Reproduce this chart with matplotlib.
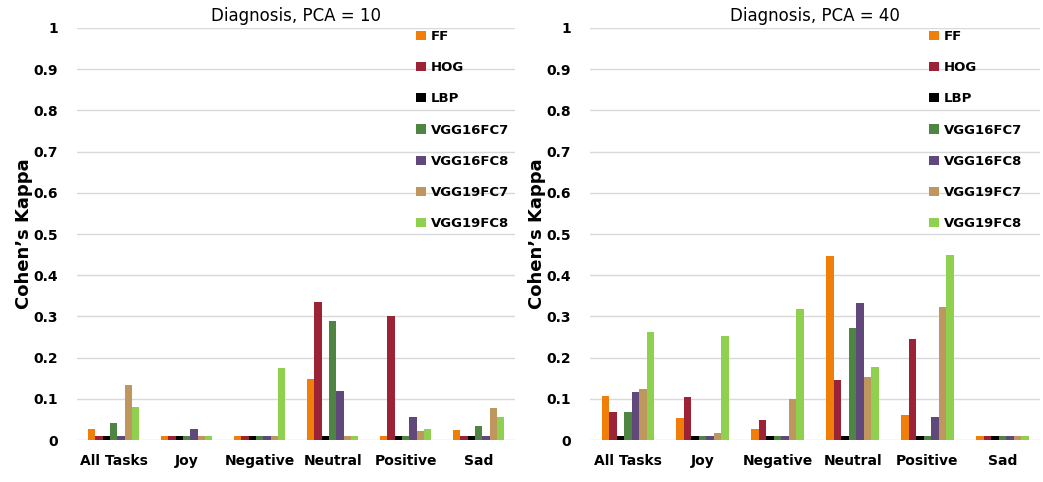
import matplotlib.pyplot as plt
import numpy as np

categories = ['All Tasks', 'Joy', 'Negative', 'Neutral', 'Positive', 'Sad']
features = ['FF', 'HOG', 'LBP', 'VGG16FC7', 'VGG16FC8', 'VGG19FC7', 'VGG19FC8']
colors = ['#F07F09', '#9B2335', '#000000', '#4E8542', '#60497A', '#C0965F', '#8FD14F']

# Cohen's kappa per feature, one list per task category order above
pca10 = {
    'FF':       [0.026, 0.01, 0.01, 0.147, 0.01, 0.024],
    'HOG':      [0.01, 0.01, 0.01, 0.335, 0.30, 0.01],
    'LBP':      [0.01, 0.01, 0.01, 0.01, 0.01, 0.01],
    'VGG16FC7': [0.041, 0.01, 0.01, 0.288, 0.01, 0.033],
    'VGG16FC8': [0.01, 0.028, 0.01, 0.12, 0.057, 0.01],
    'VGG19FC7': [0.133, 0.01, 0.01, 0.01, 0.023, 0.079],
    'VGG19FC8': [0.08, 0.01, 0.176, 0.01, 0.028, 0.057],
}
pca40 = {
    'FF':       [0.107, 0.054, 0.027, 0.447, 0.06, 0.01],
    'HOG':      [0.067, 0.105, 0.048, 0.145, 0.245, 0.01],
    'LBP':      [0.01, 0.01, 0.01, 0.01, 0.01, 0.01],
    'VGG16FC7': [0.068, 0.01, 0.01, 0.272, 0.01, 0.01],
    'VGG16FC8': [0.117, 0.01, 0.01, 0.332, 0.057, 0.01],
    'VGG19FC7': [0.124, 0.016, 0.10, 0.152, 0.322, 0.01],
    'VGG19FC8': [0.262, 0.252, 0.319, 0.178, 0.45, 0.01],
}

fig = plt.figure(figsize=(10.43, 4.82), dpi=100)
ax1 = fig.add_axes([0.074, 0.087, 0.42, 0.855])
ax2 = fig.add_axes([0.566, 0.087, 0.431, 0.855])

x = np.arange(len(categories))
w = 0.1


def draw(ax, data, title, leg_x):
    for i, f in enumerate(features):
        ax.bar(x + (i - 3) * w, data[f], w, color=colors[i], label=f, zorder=3)
    ax.set_ylim(0, 1)
    ax.set_xlim(-0.5, len(categories) - 0.5)
    ax.set_yticks(np.arange(0, 1.01, 0.1))
    ax.set_yticklabels(['0'] + ['%.1f' % v for v in np.arange(0.1, 0.95, 0.1)] + ['1'],
                       fontsize=10, fontweight='bold')
    ax.set_xticks(x)
    ax.set_xticklabels(categories, fontsize=10, fontweight='bold')
    ax.tick_params(axis='x', length=0, pad=10)
    ax.tick_params(axis='y', length=0, pad=14)
    ax.grid(axis='y', color='#d9d9d9', linewidth=1, zorder=0)
    for s in ax.spines.values():
        s.set_visible(False)
    ax.set_title(title, fontsize=12, pad=5)
    ax.set_ylabel('Cohen\u2019s Kappa', fontsize=13, fontweight='bold', labelpad=0)
    ax.legend(loc='upper left', bbox_to_anchor=(leg_x, 1.0), frameon=False,
              prop={'weight': 'bold', 'size': 9.5}, handlelength=0.7, handleheight=0.7,
              handletextpad=0.4, labelspacing=1.38, borderpad=0.15, borderaxespad=0)


draw(ax1, pca10, 'Diagnosis, PCA = 10', 0.77)
draw(ax2, pca40, 'Diagnosis, PCA = 40', 0.75)

fig.savefig('out.png', dpi=100)
